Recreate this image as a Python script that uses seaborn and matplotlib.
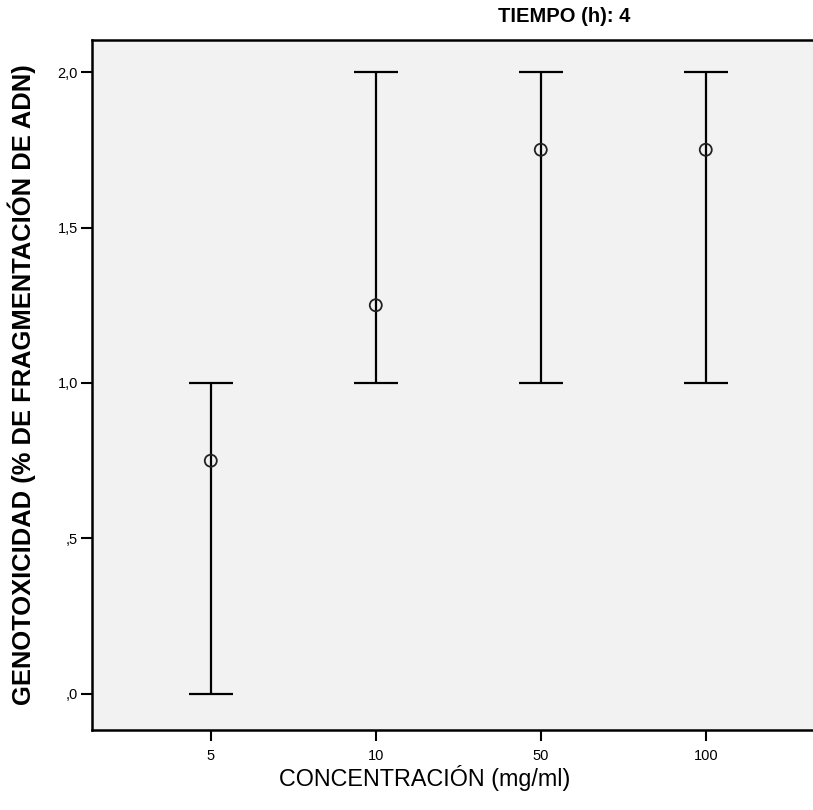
import numpy as np
import pandas as pd
import seaborn as sns
from matplotlib import pyplot as plt

# datos
concentracion = ['5', '10', '50', '100']
media = [0.75, 1.25, 1.75, 1.75]
limite_inf = [0.0, 1.0, 1.0, 1.0]
limite_sup = [1.0, 2.0, 2.0, 2.0]
yticks = [0.0, 0.5, 1.0, 1.5, 2.0]
ytick_labels = [',0', ',5', '1,0', '1,5', '2,0']

df = pd.DataFrame({'conc': concentracion, 'media': media,
                   'inf': limite_inf, 'sup': limite_sup})

sns.set_style('white')
plt.rcParams['font.family'] = ['Liberation Sans', 'DejaVu Sans']
plt.rcParams['text.color'] = 'black'
plt.rcParams['axes.labelcolor'] = 'black'

fig = plt.figure(figsize=(8.13, 8.10), dpi=100)
ax = fig.add_axes([92 / 813, 80 / 810, 1 - 92 / 813, 690 / 810])
ax.set_facecolor('#f2f2f2')

sns.scatterplot(data=df, x='conc', y='media', ax=ax, marker='o', s=75,
                facecolors='none', edgecolor='#222222', linewidth=1.3, zorder=3)

pos = np.arange(len(df))
ax.errorbar(pos, df['media'],
            yerr=[df['media'] - df['inf'], df['sup'] - df['media']],
            fmt='none', ecolor='black', elinewidth=1.6, capsize=16, capthick=1.6, zorder=2)

ax.set_xlim(-0.72, 3.65)
ax.set_ylim(-0.116, 2.103)
ax.set_yticks(yticks)
ax.set_yticklabels(ytick_labels)
ax.tick_params(axis='both', direction='out', length=8, width=1.5, labelsize=10.5,
               left=True, bottom=True, colors='black')
ax.tick_params(axis='y', pad=2)
ax.tick_params(axis='x', pad=6)
for s in ['left', 'bottom', 'top']:
    ax.spines[s].set_color('black')
    ax.spines[s].set_linewidth(1.8)
ax.spines['right'].set_visible(False)

ax.set_xlabel('')
ax.set_ylabel('GENOTOXICIDAD (% DE FRAGMENTACIÓN DE ADN)', fontsize=18.4,
              fontweight='bold', labelpad=16, color='black')
fig.text(425 / 813, 1 - 778 / 810, 'CONCENTRACIÓN (mg/ml)', fontsize=16.8,
         ha='center', va='center', color='black')
fig.text(564 / 813, 1 - 17 / 810, 'TIEMPO (h): 4', fontsize=14.5,
         fontweight='bold', ha='center', va='center', color='black')

fig.savefig('out.png', dpi=100)
